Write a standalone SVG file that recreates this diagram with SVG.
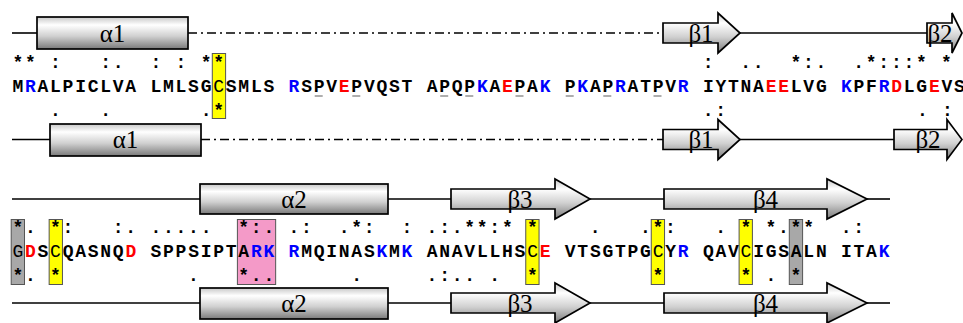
<svg xmlns="http://www.w3.org/2000/svg" width="963" height="323" viewBox="0 0 963 323">
<style>
.seq{font-family:"Liberation Mono","Courier New",monospace;font-weight:bold;font-size:18px;letter-spacing:1.75px;fill:#000}
.mk{font-family:"Liberation Mono","Courier New",monospace;font-weight:bold;font-size:18px;letter-spacing:1.75px;fill:#000}
.b{fill:#0000ff}
.r{fill:#ff0000}
.lbl{font-family:"Liberation Serif","Times New Roman",serif;font-size:25px;fill:#000;text-anchor:middle}
.shape{fill:url(#g);stroke:#000;stroke-width:1.7}
.ln{stroke:#000;stroke-width:1.6;fill:none}
.dd{stroke:#000;stroke-width:1.6;fill:none;stroke-dasharray:9 4 2 4}
.ul{stroke:#777;stroke-width:1.2}
.yb{fill:#ffff00;stroke:#555;stroke-width:1}
.gb{fill:#a8a8a8;stroke:#555;stroke-width:1}
.pb{fill:#f49ac8;stroke:#555;stroke-width:1}
</style>
<defs>
<linearGradient id="g" x1="0" y1="0" x2="0" y2="1">
<stop offset="0" stop-color="#c8c8c8"/>
<stop offset="0.25" stop-color="#ffffff"/>
<stop offset="0.6" stop-color="#d0d0d0"/>
<stop offset="1" stop-color="#7a7a7a"/>
</linearGradient>
</defs>
<rect width="963" height="323" fill="#fff"/>

<g id="connectors">
<line class="ln" x1="12" y1="33" x2="37" y2="33"/>
<line class="dd" x1="188" y1="33" x2="663" y2="33"/>
<line class="ln" x1="740" y1="33" x2="927" y2="33"/>
<line class="ln" x1="12" y1="139.5" x2="50" y2="139.5"/>
<line class="dd" x1="201" y1="139.5" x2="663" y2="139.5"/>
<line class="ln" x1="740" y1="139.5" x2="894" y2="139.5"/>
<line class="ln" x1="12" y1="199" x2="200" y2="199"/>
<line class="ln" x1="388" y1="199" x2="451" y2="199"/>
<line class="ln" x1="590" y1="199" x2="664" y2="199"/>
<line class="ln" x1="867" y1="199" x2="890" y2="199"/>
<line class="ln" x1="12" y1="303" x2="200" y2="303"/>
<line class="ln" x1="388" y1="303" x2="451" y2="303"/>
<line class="ln" x1="590" y1="303" x2="664" y2="303"/>
<line class="ln" x1="867" y1="303" x2="890" y2="303"/>
</g>

<g id="rowA">
<g id="a1-top"><rect class="shape" x="37" y="17" width="151" height="32"/><text class="lbl" x="112.5" y="41.5">α1</text></g>
<g id="b1-top"><path class="shape" d="M663,23 L718,23 L718,13 L740,33 L718,53 L718,43 L663,43 Z"/><text class="lbl" x="701" y="41.5">β1</text></g>
<g id="b2-top"><path class="shape" d="M927,23 L952,23 L952,13 L962,33 L952,53 L952,43 L927,43 Z"/><text class="lbl" x="940" y="41.5">β2</text></g>
</g>

<g id="rowB">
<g id="a1-bot"><rect class="shape" x="50" y="124" width="151" height="32"/><text class="lbl" x="125.5" y="148">α1</text></g>
<g id="b1-bot"><path class="shape" d="M663,129.5 L718,129.5 L718,119.5 L740,139.5 L718,159.5 L718,149.5 L663,149.5 Z"/><text class="lbl" x="701" y="148">β1</text></g>
<g id="b2-bot"><path class="shape" d="M894,129.5 L947,129.5 L947,119.5 L962,139.5 L947,159.5 L947,149.5 L894,149.5 Z"/><text class="lbl" x="928" y="148">β2</text></g>
</g>

<g id="rowC">
<g id="a2-top"><rect class="shape" x="200" y="184" width="188" height="30"/><text class="lbl" x="294" y="207.5">α2</text></g>
<g id="b3-top"><path class="shape" d="M451,189 L555,189 L555,179 L590,199 L555,219 L555,209 L451,209 Z"/><text class="lbl" x="520" y="207.5">β3</text></g>
<g id="b4-top"><path class="shape" d="M664,189 L827,189 L827,179 L867,199 L827,219 L827,209 L664,209 Z"/><text class="lbl" x="765.5" y="207.5">β4</text></g>
</g>

<g id="rowD">
<g id="a2-bot"><rect class="shape" x="200" y="288" width="188" height="31"/><text class="lbl" x="294" y="311.5">α2</text></g>
<g id="b3-bot"><path class="shape" d="M451,293 L555,293 L555,283 L590,303 L555,323 L555,313 L451,313 Z"/><text class="lbl" x="520" y="311.5">β3</text></g>
<g id="b4-bot"><path class="shape" d="M664,293 L827,293 L827,283 L867,303 L827,323 L827,313 L664,313 Z"/><text class="lbl" x="765.5" y="311.5">β4</text></g>
</g>

<g id="highlights">
<rect class="yb" x="212.3" y="53.5" width="13.3" height="65"/>
<rect class="gb" x="11.2" y="219.5" width="13.3" height="65"/>
<rect class="yb" x="49.15" y="219.5" width="13.3" height="65"/>
<rect class="pb" x="237.4" y="219.5" width="38.25" height="65"/>
<rect class="yb" x="525.75" y="219.5" width="13.3" height="65"/>
<rect class="yb" x="651.25" y="219.5" width="13.3" height="65"/>
<rect class="yb" x="739.1" y="219.5" width="13.3" height="65"/>
<rect class="gb" x="789.3" y="219.5" width="13.3" height="65"/>
</g>

<g id="line1">
<text class="mk" x="12.375" y="68" xml:space="preserve">** :   :.  : : **</text>
<text class="mk" x="702.625" y="68" xml:space="preserve">:  ..  *:.  .*:::* *</text>
<text class="seq" x="12.375" y="92" xml:space="preserve">M<tspan class="b">R</tspan>ALPICLVA LMLSG<tspan font-weight="normal">C</tspan>SMLS <tspan class="b">R</tspan>SPV<tspan class="r">E</tspan>PVQST APQP<tspan class="b">K</tspan>A<tspan class="r">E</tspan>PA<tspan class="b">K</tspan> P<tspan class="b">K</tspan>AP<tspan class="b">R</tspan>ATPV<tspan class="b">R</tspan> IYTNA<tspan class="r">EE</tspan>LVG <tspan class="b">K</tspan>PF<tspan class="b">R</tspan><tspan class="r">D</tspan>LG<tspan class="r">E</tspan>VS</text>
<text class="mk" x="50.025" y="116" xml:space="preserve">.   .       .*</text>
<text class="mk" x="702.625" y="116" xml:space="preserve">.:</text>
<text class="mk" x="916.975" y="116" xml:space="preserve">. :</text>
<g id="underlines">
<line class="ul" x1="314.7" y1="96" x2="322.7" y2="96"/>
<line class="ul" x1="352.3" y1="96" x2="360.3" y2="96"/>
<line class="ul" x1="440.2" y1="96" x2="448.2" y2="96"/>
<line class="ul" x1="465.3" y1="96" x2="473.3" y2="96"/>
<line class="ul" x1="515.5" y1="96" x2="523.5" y2="96"/>
<line class="ul" x1="565.7" y1="96" x2="573.7" y2="96"/>
<line class="ul" x1="603.3" y1="96" x2="611.3" y2="96"/>
<line class="ul" x1="653.5" y1="96" x2="661.5" y2="96"/>
</g>
</g>

<g id="line2">
<text class="mk" x="12.375" y="233" xml:space="preserve">*. *:   :. .....  *:. .:  .*:  : .:.**:* *    .   .*:   . * *.**  .:</text>
<text class="seq" x="12.375" y="256.5" xml:space="preserve"><tspan font-weight="normal">G</tspan><tspan class="r">D</tspan>S<tspan font-weight="normal">C</tspan>QASNQ<tspan class="r">D</tspan> SPPSIPTA<tspan class="b">RK</tspan> <tspan class="b">R</tspan>MQINAS<tspan class="b">K</tspan>M<tspan class="b">K</tspan> ANAVLLHS<tspan font-weight="normal">C</tspan><tspan class="r">E</tspan> VTSGTPG<tspan font-weight="normal">C</tspan>Y<tspan class="b">R</tspan> QAV<tspan font-weight="normal">C</tspan>IGSALN ITA<tspan class="b">K</tspan></text>
<text class="mk" x="12.375" y="280.5" xml:space="preserve">*. *          .   *..      .     .:.. .  *         *      * . *</text>
</g>
</svg>
